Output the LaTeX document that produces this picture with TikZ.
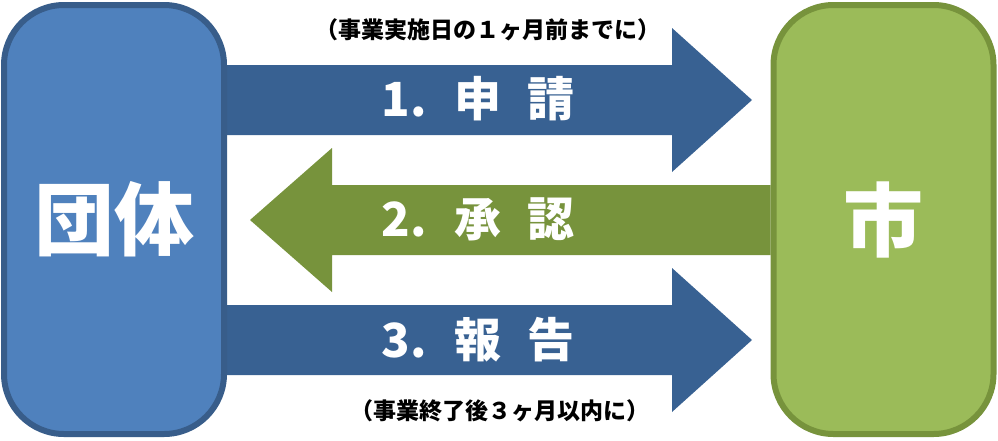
\documentclass[tikz,border=0pt]{standalone}
\usepackage{fontspec}
\setmainfont{Noto Sans CJK JP}
\usetikzlibrary{backgrounds}
\definecolor{flblue}{HTML}{4F81BD}
\definecolor{flblueline}{HTML}{385D8A}
\definecolor{flbluearrow}{HTML}{386192}
\definecolor{flgreen}{HTML}{9BBB59}
\definecolor{flgreenline}{HTML}{77933C}
\definecolor{flgreenarrow}{HTML}{77933C}
\tikzset{
  fl/party/.style={
    rounded corners=60pt, line width=6pt, inner sep=0pt,
    minimum width=220pt, minimum height=429pt,
    text=white, font=\bfseries\fontsize{80}{80}\selectfont
  },
  fl/blue/.style={fl/party, draw=flblueline, fill=flblue},
  fl/green/.style={fl/party, draw=flgreenline, fill=flgreen},
  fl/label/.style={text=white, inner sep=0pt, font=\bfseries\fontsize{47}{47}\selectfont},
  fl/note/.style={text=black, inner sep=0pt, font=\bfseries\fontsize{23}{23}\selectfont},
  fl/fwd/.style={fill=flbluearrow},
  fl/back/.style={fill=flgreenarrow}
}
\begin{document}
\begin{tikzpicture}[x=1pt, y=-1pt]
  \useasboundingbox (0,0) rectangle (998,440);
  % --- Beteiligte ---
  \node[fl/blue] (dantai) at (114,219.5) {団体};
  \node[fl/green] (shi) at (883.5,219.5) {市};

  % --- Pfeile ---
  \begin{scope}[on background layer]
    \fill[fl/fwd] (dantai.east |- 0,65) -- (672,65) -- (672,28) -- (752,100)
      -- (672,172) -- (672,135) -- (dantai.east |- 0,135) -- cycle;
    \fill[fl/back] (shi.west |- 0,185) -- (332,185) -- (332,148) -- (250,220)
      -- (332,292) -- (332,255) -- (shi.west |- 0,255) -- cycle;
    \fill[fl/fwd] (dantai.east |- 0,305) -- (672,305) -- (672,268) -- (752,340)
      -- (672,412) -- (672,375) -- (dantai.east |- 0,375) -- cycle;
  \end{scope}

  \node[fl/label] (req) at (478,99) {1.\hspace{0.6em}申\hspace{0.55em}請};
  \node[fl/label] (appr) at (478,219) {2.\hspace{0.6em}承\hspace{0.55em}認};
  \node[fl/label] (rep) at (478,340) {3.\hspace{0.6em}報\hspace{0.55em}告};

  \node[fl/note] (reqnote) at (488,30) {（事業実施日の１ヶ月前までに）};
  \node[fl/note] (repnote) at (500,411) {（事業終了後３ヶ月以内に）};
\end{tikzpicture}
\end{document}
